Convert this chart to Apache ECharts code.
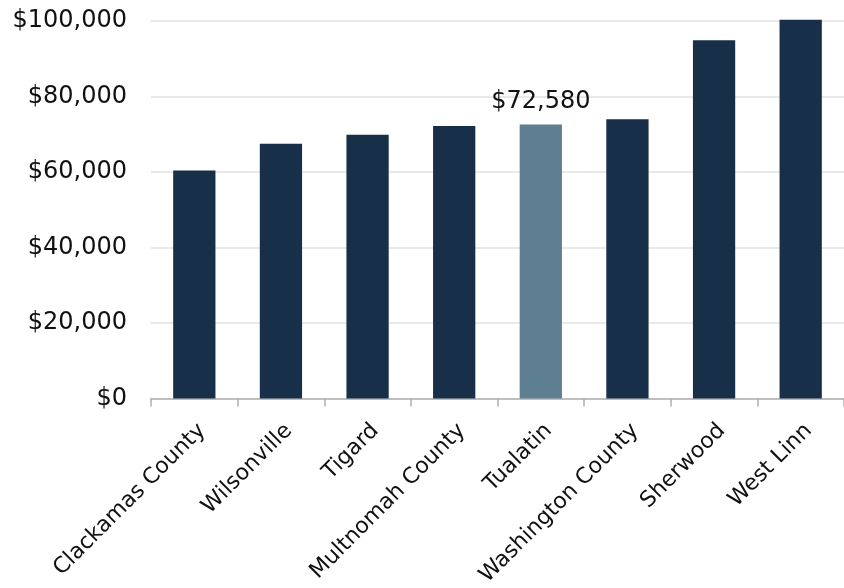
<!DOCTYPE html>
<html>
<head>
<meta charset="utf-8">
<script src="https://cdn.jsdelivr.net/npm/echarts@6/dist/echarts.min.js"></script>
<style>
html,body{margin:0;padding:0;background:#fff;}
#chart{width:844px;height:588px;}
</style>
</head>
<body>
<div id="chart"></div>
<script>
const categories = ["Clackamas County","Wilsonville","Tigard","Multnomah County","Tualatin","Washington County","Sherwood","West Linn"];
const incomes = [60400, 67500, 69900, 72200, 72580, 74000, 94900, 100300];
const highlightCategory = "Tualatin";
const yTicks = [0, 20000, 40000, 60000, 80000, 100000];

const FONT = "DejaVu Sans";
const dark = "#172f48";
const light = "#5e7f92";

const chart = echarts.init(document.getElementById('chart'), null, {renderer:'canvas'});
const fmt = v => '$' + v.toLocaleString('en-US');

chart.setOption({
  animation: false,
  grid: {left: 151, right: 0, top: 21, bottom: 189.5, containLabel: false, outerBoundsMode: 'none'},
  xAxis: {
    type: 'category',
    data: categories,
    axisLine: {lineStyle: {color: '#b0b0b0', width: 1.5}},
    axisTick: {show: true, length: 8, lineStyle: {color: '#b0b0b0', width: 1.5}},
    axisLabel: {rotate: 45, interval: 0, margin: 21, verticalAlign: 'top', fontFamily: FONT, fontSize: 22, color: '#111'}
  },
  yAxis: {
    type: 'value',
    min: yTicks[0],
    max: yTicks[yTicks.length-1],
    interval: 20000,
    axisLine: {show: false},
    axisTick: {show: false},
    splitLine: {lineStyle: {color: '#e2e2e2', width: 1.5}},
    axisLabel: {formatter: fmt, fontFamily: FONT, fontSize: 24, color: '#111', margin: 24}
  },
  series: [{
    type: 'bar',
    clip: false,
    barWidth: '48.8%',
    data: incomes.map((v, i) => ({
      value: v,
      itemStyle: {color: categories[i] === highlightCategory ? light : dark},
      label: categories[i] === highlightCategory ? {
        show: true, position: 'top', distance: 11,
        formatter: p => fmt(p.value),
        fontFamily: FONT, fontSize: 24, color: '#111'
      } : {show: false}
    }))
  }]
});
</script>
</body>
</html>
